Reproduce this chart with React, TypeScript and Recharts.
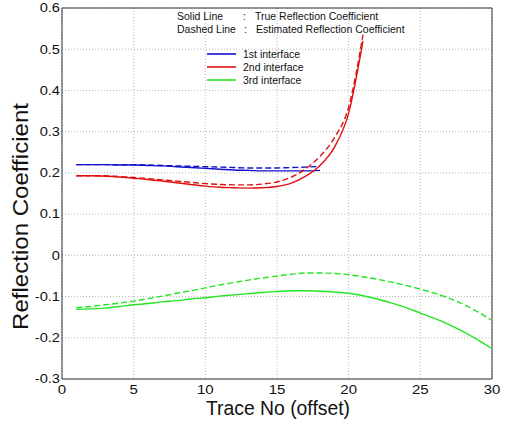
import React from 'react';
import { LineChart, Line, XAxis, YAxis, CartesianGrid, ReferenceLine } from 'recharts';

// Trace numbers (offset index)
const traceNo = Array.from({ length: 30 }, (_, i) => i + 1);

// 1st interface (traces 1-18)
const firstTrue = [0.220, 0.220, 0.220, 0.219, 0.219, 0.218, 0.217, 0.215, 0.213, 0.211, 0.209, 0.207, 0.206, 0.205, 0.205, 0.205, 0.205, 0.206];
const firstEst = [0.220, 0.220, 0.220, 0.220, 0.220, 0.219, 0.218, 0.217, 0.216, 0.215, 0.214, 0.213, 0.212, 0.212, 0.212, 0.213, 0.214, 0.216];

// 2nd interface (traces 1-21)
const secondTrue = [0.193, 0.193, 0.192, 0.190, 0.187, 0.184, 0.180, 0.176, 0.172, 0.168, 0.165, 0.164, 0.163, 0.164, 0.167, 0.175, 0.192, 0.218, 0.262, 0.345, 0.520];
const secondEst = [0.193, 0.193, 0.193, 0.191, 0.189, 0.186, 0.183, 0.180, 0.177, 0.174, 0.172, 0.171, 0.171, 0.173, 0.178, 0.190, 0.210, 0.240, 0.285, 0.360, 0.535];

// 3rd interface (traces 1-30)
const thirdTrue = [-0.131, -0.130, -0.128, -0.124, -0.120, -0.117, -0.113, -0.110, -0.106, -0.103, -0.099, -0.096, -0.093, -0.090, -0.088, -0.086, -0.086, -0.087, -0.089, -0.092, -0.098, -0.106, -0.116, -0.127, -0.140, -0.153, -0.168, -0.185, -0.205, -0.226];
const thirdEst = [-0.127, -0.124, -0.120, -0.116, -0.111, -0.105, -0.099, -0.092, -0.086, -0.079, -0.072, -0.066, -0.060, -0.055, -0.050, -0.046, -0.043, -0.043, -0.044, -0.047, -0.052, -0.058, -0.065, -0.073, -0.082, -0.092, -0.104, -0.119, -0.137, -0.158];

const xTicks = [0, 5, 10, 15, 20, 25, 30];
const yTicks = [-0.3, -0.2, -0.1, 0, 0.1, 0.2, 0.3, 0.4, 0.5, 0.6];

const interfaceNames = ['1st interface', '2nd interface', '3rd interface'];
const interfaceColors = ['#1010cc', '#e01010', '#22e622'];

const data = traceNo.map((t, i) => ({
  t,
  firstTrue: i < firstTrue.length ? firstTrue[i] : null,
  firstEst: i < firstEst.length ? firstEst[i] : null,
  secondTrue: i < secondTrue.length ? secondTrue[i] : null,
  secondEst: i < secondEst.length ? secondEst[i] : null,
  thirdTrue: thirdTrue[i],
  thirdEst: thirdEst[i],
}));

const FONT = '"Liberation Sans", Arial, Helvetica, sans-serif';

const YTick = (props: any) => {
  const { x, y, payload } = props;
  const label = payload.value === 0 ? '0' : String(Number(payload.value.toFixed(1)));
  return (
    <text
      x={x}
      y={y}
      dy="0.36em"
      textAnchor="end"
      fontSize={12}
      fontFamily={FONT}
      fill="#111"
      transform={`translate(${x},0) scale(1.22,1) translate(${-x},0)`}
    >
      {label}
    </text>
  );
};

const XTick = (props: any) => {
  const { x, y, payload } = props;
  return (
    <text
      x={x}
      y={y}
      dy={15}
      textAnchor="middle"
      fontSize={12}
      fontFamily={FONT}
      fill="#111"
      transform={`translate(${x},0) scale(1.25,1) translate(${-x},0)`}
    >
      {payload.value}
    </text>
  );
};

const XTitle = () => (
  <text x={278} y={415} textAnchor="middle" fontSize={20.5} fontFamily={FONT} fill="#111" textLength={144} lengthAdjust="spacingAndGlyphs">
    Trace No (offset)
  </text>
);

const YTitle = () => (
  <text
    x={28}
    y={216.5}
    textAnchor="middle"
    fontSize={22}
    fontFamily={FONT}
    fill="#111"
    transform="rotate(-90, 28, 216.5)"
    textLength={227}
    lengthAdjust="spacingAndGlyphs"
  >
    Reflection Coefficient
  </text>
);

const series = [
  { key: 'firstTrue', color: interfaceColors[0], dashed: false },
  { key: 'firstEst', color: interfaceColors[0], dashed: true },
  { key: 'secondTrue', color: interfaceColors[1], dashed: false },
  { key: 'secondEst', color: interfaceColors[1], dashed: true },
  { key: 'thirdTrue', color: interfaceColors[2], dashed: false },
  { key: 'thirdEst', color: interfaceColors[2], dashed: true },
];

export default function App() {
  return (
    <div style={{ position: 'absolute', left: 0, top: 0, width: 505, height: 421, background: '#fff' }}>
      <LineChart width={505} height={421} data={data} margin={{ top: 8, right: 13, bottom: 12, left: 0 }}>
        <CartesianGrid stroke="#b8b8b8" strokeDasharray="1 2" />
        <XAxis
          dataKey="t"
          type="number"
          domain={[0, 30]}
          ticks={xTicks}
          height={30}
          tickSize={0}
          tickMargin={0}
          tick={<XTick />}
          stroke="#333"
          interval={0}
          allowDataOverflow
          label={<XTitle />}
        />
        <YAxis
          type="number"
          domain={[-0.3, 0.6]}
          ticks={yTicks}
          width={62}
          tickSize={0}
          tickMargin={2}
          tick={<YTick />}
          stroke="#333"
          interval={0}
          allowDataOverflow
          label={<YTitle />}
        />
        <ReferenceLine y={0.6} stroke="#333" />
        <ReferenceLine x={30} stroke="#333" />
        {series.map((s) => (
          <Line
            key={s.key}
            dataKey={s.key}
            type="monotone"
            stroke={s.color}
            strokeWidth={1.4}
            strokeDasharray={s.dashed ? '6 3' : undefined}
            dot={false}
            activeDot={false}
            connectNulls={false}
            isAnimationActive={false}
          />
        ))}
      </LineChart>
      <svg width={505} height={421} style={{ position: 'absolute', left: 0, top: 0, pointerEvents: 'none' }}>
        <g fontFamily={FONT} fontSize={10.5} fill="#111">
          <text x={177} y={20}>Solid Line</text>
          <text x={243} y={20}>:</text>
          <text x={255} y={20}>True Reflection Coefficient</text>
          <text x={177} y={33}>Dashed Line</text>
          <text x={244} y={33}>:</text>
          <text x={256} y={33}>Estimated Reflection Coefficient</text>
        </g>
        {interfaceNames.map((name, i) => {
          const y = 54 + i * 13;
          return (
            <g key={name}>
              <line x1={207} x2={236} y1={y} y2={y} stroke={interfaceColors[i]} strokeWidth={1.6} />
              <text x={243} y={y + 3.8} fontFamily={FONT} fontSize={10.5} fill="#111">
                {name}
              </text>
            </g>
          );
        })}
      </svg>
    </div>
  );
}
